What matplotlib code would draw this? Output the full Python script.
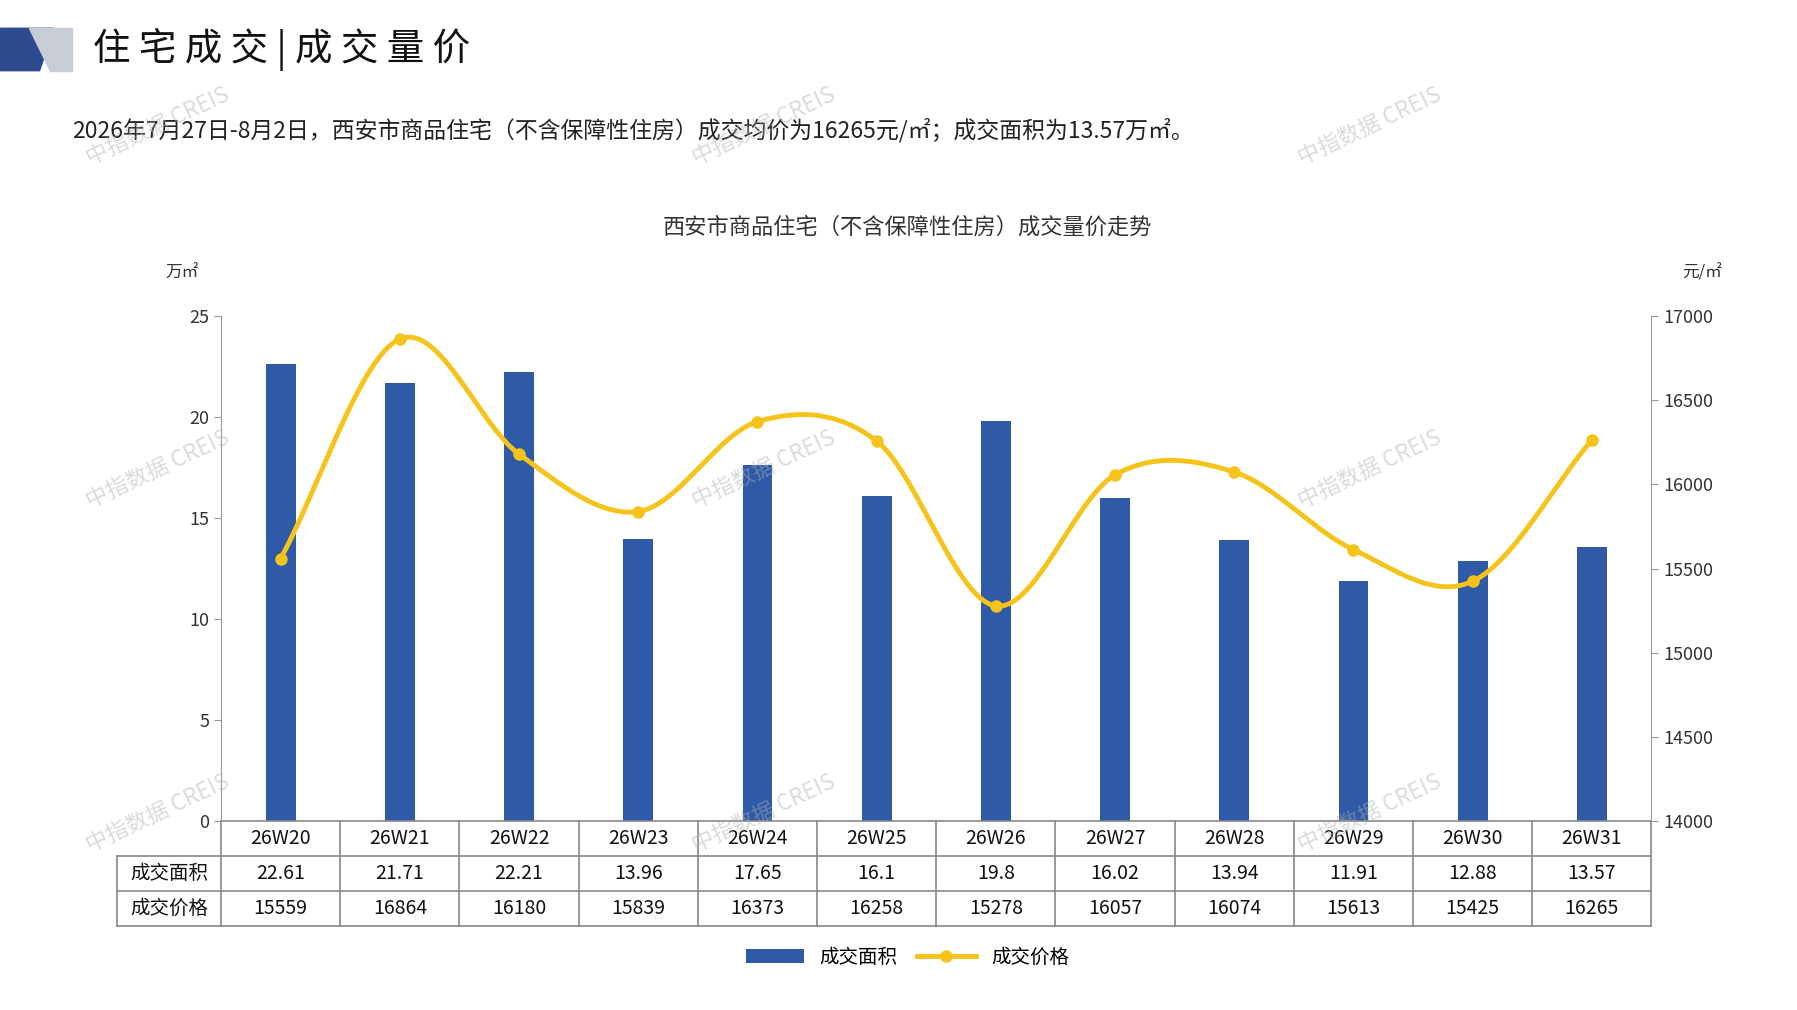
import numpy as np
import matplotlib.pyplot as plt
from matplotlib.patches import Polygon

plt.rcParams['font.family'] = ['Noto Sans CJK SC', 'DejaVu Sans']

weeks = ["26W20", "26W21", "26W22", "26W23", "26W24", "26W25",
         "26W26", "26W27", "26W28", "26W29", "26W30", "26W31"]
area = [22.61, 21.71, 22.21, 13.96, 17.65, 16.1, 19.8, 16.02, 13.94, 11.91, 12.88, 13.57]
price = [15559, 16864, 16180, 15839, 16373, 16258, 15278, 16057, 16074, 15613, 15425, 16265]
area_labels = ["22.61", "21.71", "22.21", "13.96", "17.65", "16.1", "19.8", "16.02", "13.94", "11.91", "12.88", "13.57"]
row_names = ["成交面积", "成交价格"]

BLUE = "#2e5aa8"
GOLD = "#f5c31a"


def smooth(x, y, n=30):
    """catmull-rom curve through the points, for a smoothed line"""
    x = np.asarray(x, float); y = np.asarray(y, float)
    px = np.concatenate([[2 * x[0] - x[1]], x, [2 * x[-1] - x[-2]]])
    py = np.concatenate([[2 * y[0] - y[1]], y, [2 * y[-1] - y[-2]]])
    xs, ys = [], []
    t = np.linspace(0, 1, n)
    for i in range(1, len(px) - 2):
        for p, out in ((px, xs), (py, ys)):
            p0, p1, p2, p3 = p[i - 1], p[i], p[i + 1], p[i + 2]
            out.extend(0.5 * (2 * p1 + (-p0 + p2) * t + (2 * p0 - 5 * p1 + 4 * p2 - p3) * t ** 2
                              + (-p0 + 3 * p1 - 3 * p2 + p3) * t ** 3))
    return np.array(xs), np.array(ys)


fig = plt.figure(figsize=(17.97, 10.10), dpi=100)

# header
fig.patches.append(Polygon([[0, 0.93], [0.022, 0.93], [0.03, 0.972], [0, 0.972]],
                           closed=True, transform=fig.transFigure, color="#2e4a8f"))
fig.patches.append(Polygon([[0.016, 0.972], [0.04, 0.972], [0.04, 0.93], [0.028, 0.93]],
                           closed=True, transform=fig.transFigure, color="#c8ccd4"))
fig.text(0.052, 0.951, "住 宅 成 交 | 成 交 量 价", fontsize=27, va="center", color="#111111")
fig.text(0.04, 0.871, "2026年7月27日-8月2日，西安市商品住宅（不含保障性住房）成交均价为16265元/㎡；成交面积为13.57万㎡。",
         fontsize=16.5, va="center", color="#222222")
fig.text(0.505, 0.775, "西安市商品住宅（不含保障性住房）成交量价走势", fontsize=16, ha="center", va="center", color="#333333")
fig.text(0.092, 0.725, "万㎡", fontsize=12, color="#333333")
fig.text(0.936, 0.725, "元/㎡", fontsize=12, color="#333333")

ax = fig.add_axes([0.123, 0.187, 0.796, 0.5])
x = np.arange(len(weeks))
ax.bar(x, area, width=0.25, color=BLUE, zorder=2)
ax.set_xlim(-0.5, len(weeks) - 0.5)
ax.set_ylim(0, 25)
ax.set_yticks([0, 5, 10, 15, 20, 25])
ax.set_xticks([])
ax.tick_params(axis="y", labelsize=13, colors="#333333", length=5, color="#999999")
for s in ["top", "right", "bottom"]:
    ax.spines[s].set_visible(False)
ax.spines["left"].set_color("#999999")

ax2 = ax.twinx()
sx, sy = smooth(x, price)
ax2.plot(sx, sy, color=GOLD, lw=3.5, zorder=3)
ax2.plot(x, price, "o", color=GOLD, ms=8, zorder=4)
ax2.set_ylim(14000, 17000)
ax2.set_yticks(range(14000, 17001, 500))
ax2.tick_params(axis="y", labelsize=13, colors="#333333", length=5, color="#999999")
for s in ["top", "left", "bottom"]:
    ax2.spines[s].set_visible(False)
ax2.spines["right"].set_color("#999999")

# data table, drawn under the axes
rh = 0.069  # row height
lw_ = 0.073  # width of the row label column
cw = 1 / len(weeks)
line_kw = dict(transform=ax.transAxes, color="#888888", lw=1.2, clip_on=False)
ax.plot([0, 1], [0, 0], **line_kw)
for k in (1, 2, 3):
    ax.plot([-lw_, 1], [-k * rh, -k * rh], **line_kw)
for i in range(len(weeks) + 1):
    ax.plot([i * cw, i * cw], [0, -3 * rh], **line_kw)
ax.plot([-lw_, -lw_], [-rh, -3 * rh], **line_kw)
txt_kw = dict(transform=ax.transAxes, ha="center", va="center", fontsize=14, color="#111111")
rows = [weeks, area_labels, [str(p) for p in price]]
for r, vals in enumerate(rows):
    yc = -(r + 0.5) * rh
    for i, v in enumerate(vals):
        ax.text((i + 0.5) * cw, yc, v, **txt_kw)
    if r > 0:
        ax.text(-lw_ / 2, yc, row_names[r - 1], **txt_kw)

# legend
ax.bar([np.nan], [np.nan], color=BLUE, label="成交面积")
ax2.plot([np.nan], [np.nan], "-o", color=GOLD, lw=3.5, ms=8, label="成交价格")
h1, l1 = ax.get_legend_handles_labels()
h2, l2 = ax2.get_legend_handles_labels()
fig.legend(h1 + h2, l1 + l2, loc="center", bbox_to_anchor=(0.505, 0.052), ncol=2, frameon=False,
           fontsize=14, handlelength=3, columnspacing=1)

# watermarks
for wx in (0.088, 0.425, 0.762):
    for wy in (0.875, 0.535, 0.195):
        fig.text(wx, wy, "中指数据 CREIS", fontsize=16, rotation=25, color="#b0b0b0", alpha=0.45,
                 ha="center", va="center")

fig.savefig("out.png", dpi=100)
